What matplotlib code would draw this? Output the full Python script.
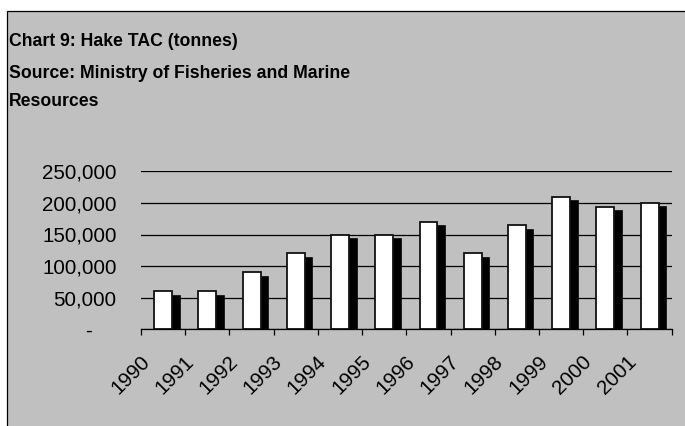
import matplotlib
matplotlib.use("Agg")
import matplotlib.pyplot as plt
from matplotlib.patches import Rectangle
from matplotlib.transforms import ScaledTranslation
from matplotlib.ticker import FixedLocator, FuncFormatter

plt.rcParams['font.family'] = ['Liberation Sans', 'DejaVu Sans']

# Hake total allowable catch by year
years = ['1990', '1991', '1992', '1993', '1994', '1995',
         '1996', '1997', '1998', '1999', '2000', '2001']
tac_tonnes = [60000, 60000, 90000, 120000, 150000, 150000,
              170000, 120000, 165000, 210000, 194000, 200000]
y_ticks = [0, 50000, 100000, 150000, 200000, 250000]

title_lines = ['Chart 9: Hake TAC (tonnes)',
               'Source: Ministry of Fisheries and Marine',
               'Resources']

W, H, DPI = 685, 426, 100
fig = plt.figure(figsize=(W / DPI, H / DPI), dpi=DPI, facecolor='white')

# grey chart area with a thin frame
fig.patches.append(Rectangle((7 / W, -0.05), 1.1, 1.05 - 11 / H,
                             transform=fig.transFigure, facecolor='#c0c0c0',
                             edgecolor='black', linewidth=0.9, zorder=-10))

for line, base in zip(title_lines, [46.5, 77.5, 106.5]):
    fig.text(9 / W, 1 - base / H, line, fontsize=12.7, fontweight='bold',
             va='baseline', ha='left')

ax = fig.add_axes([141 / W, 96.7 / H, (671.7 - 141) / W, (329.3 - 171.3) / H])
ax.set_facecolor('none')

x = list(range(len(years)))
bar_w = 0.405

# drop shadow behind each column
shadow = ScaledTranslation(7.6 / DPI, -4.5 / DPI, fig.dpi_scale_trans)
ax.bar(x, tac_tonnes, width=bar_w, color='black', edgecolor='black',
       linewidth=1.2, transform=ax.transData + shadow, zorder=2)
ax.bar(x, tac_tonnes, width=bar_w, color='white', edgecolor='#111111',
       linewidth=1.3, zorder=3)

ax.set_xlim(-0.5, len(years) - 0.5)
ax.set_ylim(0, 250000)

for side in ['top', 'right', 'left']:
    ax.spines[side].set_visible(False)
ax.spines['bottom'].set_linewidth(0.9)
ax.spines['bottom'].set_zorder(4)

ax.yaxis.set_major_locator(FixedLocator(y_ticks))
ax.yaxis.set_major_formatter(FuncFormatter(lambda v, p: '-' if v == 0 else f'{int(v):,}'))
ax.tick_params(axis='y', length=0, pad=17.5, labelsize=14.8)
ax.grid(axis='y', color='black', linewidth=0.9)
ax.set_axisbelow(True)

# category boundaries get the tick marks, centres get the labels
ax.set_xticks(x)
ax.set_xticklabels(years)
ax.set_xticks([i - 0.5 for i in range(len(years) + 1)], minor=True)
ax.tick_params(axis='x', which='major', length=0, pad=21.5, labelsize=14.8)
ax.tick_params(axis='x', which='minor', length=4, width=0.9, direction='out')

shift = ScaledTranslation(-16.5 / DPI, 0, fig.dpi_scale_trans)
for lab in ax.get_xticklabels():
    lab.set_rotation(45)
    lab.set_rotation_mode('anchor')
    lab.set_ha('right')
    lab.set_va('center')
    lab.set_transform(lab.get_transform() + shift)

fig.canvas.draw()
dash = ax.get_yticklabels()[0]
dash.set_transform(dash.get_transform() + ScaledTranslation(-25 / DPI, 0, fig.dpi_scale_trans))

fig.savefig('out.png', dpi=DPI, facecolor='white')
